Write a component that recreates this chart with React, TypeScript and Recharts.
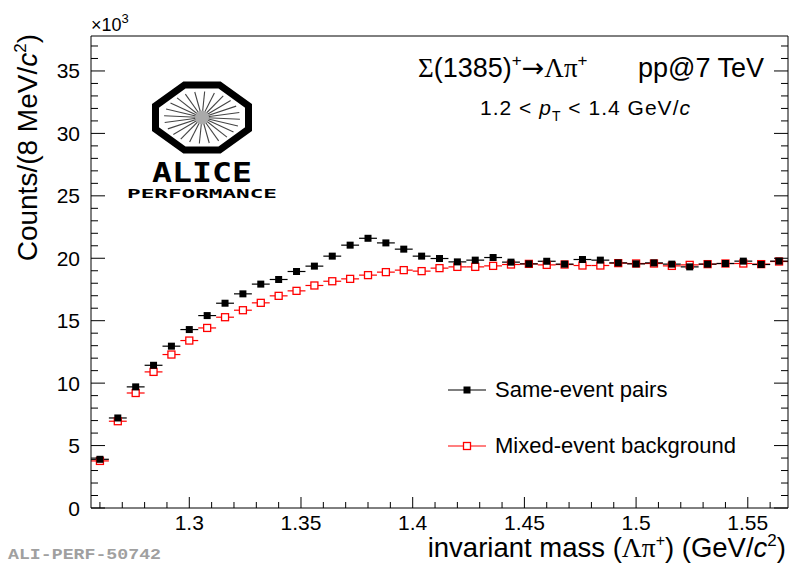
import { ScatterChart, Scatter, XAxis, YAxis, ErrorBar } from 'recharts';

// bin centres of the invariant mass histogram (GeV/c^2), 8 MeV bins
const mass = [
  1.26, 1.268, 1.276, 1.284, 1.292, 1.3, 1.308, 1.316, 1.324, 1.332,
  1.34, 1.348, 1.356, 1.364, 1.372, 1.38, 1.388, 1.396, 1.404, 1.412,
  1.42, 1.428, 1.436, 1.444, 1.452, 1.46, 1.468, 1.476, 1.484, 1.492,
  1.5, 1.508, 1.516, 1.524, 1.532, 1.54, 1.548, 1.556, 1.564,
];

// counts per bin
const sameEvent = [
  3900, 7210, 9700, 11430, 12960, 14290, 15410, 16400, 17150, 17930,
  18300, 18940, 19370, 20170, 21050, 21600, 21230, 20730, 20170, 19980,
  19710, 19850, 20060, 19690, 19550, 19760, 19530, 19900, 19850, 19630,
  19550, 19630, 19530, 19310, 19530, 19580, 19770, 19500, 19770,
];

const mixedEvent = [
  3770, 6950, 9210, 10900, 12290, 13410, 14420, 15280, 15840, 16430,
  16990, 17390, 17820, 18160, 18350, 18650, 18890, 19050, 18970, 19210,
  19310, 19310, 19390, 19500, 19550, 19470, 19500, 19420, 19420, 19610,
  19580, 19580, 19390, 19470, 19530, 19580, 19580, 19530, 19740,
];

const binHalfWidth = 0.004;

const xTicks = [
  1.26, 1.27, 1.28, 1.29, 1.3, 1.31, 1.32, 1.33, 1.34, 1.35, 1.36, 1.37,
  1.38, 1.39, 1.4, 1.41, 1.42, 1.43, 1.44, 1.45, 1.46, 1.47, 1.48, 1.49,
  1.5, 1.51, 1.52, 1.53, 1.54, 1.55, 1.56,
];

const yTicks = [
  0, 1000, 2000, 3000, 4000, 5000, 6000, 7000, 8000, 9000, 10000, 11000,
  12000, 13000, 14000, 15000, 16000, 17000, 18000, 19000, 20000, 21000,
  22000, 23000, 24000, 25000, 26000, 27000, 28000, 29000, 30000, 31000,
  32000, 33000, 34000, 35000, 36000, 37000,
];

const X_DOMAIN = [1.256, 1.568];
const Y_DOMAIN = [0, 37800];

const sameData = mass.map((m, i) => ({ m, v: sameEvent[i], ex: binHalfWidth }));
const mixedData = mass.map((m, i) => ({ m, v: mixedEvent[i], ex: binHalfWidth }));

const FONT = '"Liberation Sans", Arial, Helvetica, sans-serif';
const SERIF = '"Liberation Serif", "Times New Roman", serif';

const isMajorX = (v: number) => Math.round(v * 100) % 5 === 0;
const isMajorY = (v: number) => v % 5000 === 0;

const BottomTick = ({ x, y, payload }: any) => {
  const major = isMajorX(payload.value);
  return (
    <g>
      <line x1={x} x2={x} y1={y} y2={y - (major ? 11 : 6)} stroke="#000" />
      {major && (
        <text x={x} y={y + 22} textAnchor="middle" fontSize={21} fontFamily={FONT} fill="#000">
          {String(+payload.value.toFixed(2))}
        </text>
      )}
    </g>
  );
};

const TopTick = ({ x, y, payload }: any) => {
  const major = isMajorX(payload.value);
  return <line x1={x} x2={x} y1={y} y2={y + (major ? 11 : 6)} stroke="#000" />;
};

const LeftTick = ({ x, y, payload }: any) => {
  const major = isMajorY(payload.value);
  return (
    <g>
      <line x1={x} x2={x + (major ? 14 : 7)} y1={y} y2={y} stroke="#000" />
      {major && (
        <text x={x - 11} y={y + 7.5} textAnchor="end" fontSize={21} fontFamily={FONT} fill="#000">
          {payload.value / 1000}
        </text>
      )}
    </g>
  );
};

const RightTick = ({ x, y, payload }: any) => {
  const major = isMajorY(payload.value);
  return <line x1={x} x2={x - (major ? 14 : 7)} y1={y} y2={y} stroke="#000" />;
};

const FilledSquare = ({ cx, cy }: any) => (
  <rect x={cx - 3.5} y={cy - 3.5} width={7} height={7} fill="#000" />
);

const OpenSquare = ({ cx, cy }: any) => (
  <rect x={cx - 3.5} y={cy - 3.5} width={7} height={7} fill="#fff" stroke="#ff0000" strokeWidth={1.3} />
);

function AliceLogo() {
  const cx = 202;
  const cy = 117.5;
  const w = 100;
  const h = 72;
  const dx = w * 0.29;
  const dy = h * 0.29;
  const l = cx - w / 2 + 3.5, r = cx + w / 2 - 3.5, t = cy - h / 2 + 3.5, b = cy + h / 2 - 3.5;
  const pts = [
    [l + dx, t], [r - dx, t], [r, t + dy], [r, b - dy],
    [r - dx, b], [l + dx, b], [l, b - dy], [l, t + dy],
  ].map((p) => p.join(',')).join(' ');
  const spokes = Array.from({ length: 24 }, (_, i) => (i * Math.PI * 2) / 24 + 0.07);
  return (
    <g>
      {spokes.map((a, i) => (
        <line key={i} x1={cx} y1={cy} x2={cx + Math.cos(a) * 38} y2={cy + Math.sin(a) * 26}
          stroke="#444" strokeWidth={1.1} />
      ))}
      <circle cx={cx} cy={cy} r={7} fill="#aaa" />
      <polygon points={pts} fill="none" stroke="#000" strokeWidth={7} strokeLinejoin="miter" />
      <text x={152} y={182} fontSize={26} fontWeight="bold" fontFamily='"DejaVu Sans Mono", monospace'
        textLength={100} lengthAdjust="spacingAndGlyphs" fill="#000">ALICE</text>
      <text x={127} y={198} fontSize={13} fontWeight="bold" fontFamily='"DejaVu Sans Mono", monospace'
        textLength={150} lengthAdjust="spacingAndGlyphs" fill="#000">PERFORMANCE</text>
    </g>
  );
}

export default function App() {
  return (
    <div style={{ position: 'absolute', left: 0, top: 0, width: 791, height: 563, background: '#fff' }}>
      <ScatterChart width={791} height={563} margin={{ top: 0, right: 0, bottom: 0, left: 0 }}>
        <XAxis xAxisId="bottom" type="number" dataKey="m" domain={X_DOMAIN} ticks={xTicks}
          allowDataOverflow height={55} tickSize={0} tickMargin={0} tickLine={false}
          axisLine={{ stroke: '#000' }} tick={<BottomTick />} interval={0} />
        <XAxis xAxisId="top" orientation="top" type="number" domain={X_DOMAIN} ticks={xTicks}
          allowDataOverflow height={36} tickSize={0} tickMargin={0} tickLine={false}
          axisLine={{ stroke: '#000' }} tick={<TopTick />} interval={0} />
        <YAxis yAxisId="left" type="number" dataKey="v" domain={Y_DOMAIN} ticks={yTicks}
          allowDataOverflow width={91} tickSize={0} tickMargin={0} tickLine={false}
          axisLine={{ stroke: '#000' }} tick={<LeftTick />} interval={0} />
        <YAxis yAxisId="right" orientation="right" type="number" domain={Y_DOMAIN} ticks={yTicks}
          allowDataOverflow width={3} tickSize={0} tickMargin={0} tickLine={false}
          axisLine={{ stroke: '#000' }} tick={<RightTick />} interval={0} />
        <Scatter name="Mixed-event background" data={mixedData} xAxisId="bottom" yAxisId="left"
          shape={<OpenSquare />} isAnimationActive={false}>
          <ErrorBar dataKey="ex" direction="x" width={0} stroke="#ff0000" strokeWidth={1.2} />
        </Scatter>
        <Scatter name="Same-event pairs" data={sameData} xAxisId="bottom" yAxisId="left"
          shape={<FilledSquare />} isAnimationActive={false}>
          <ErrorBar dataKey="ex" direction="x" width={0} stroke="#000" strokeWidth={1.2} />
        </Scatter>
      </ScatterChart>

      <svg width={791} height={563} style={{ position: 'absolute', left: 0, top: 0, pointerEvents: 'none' }}>
        <AliceLogo />

        <text x={91} y={31} fontSize={18} fontFamily={FONT} fill="#000">
          ×10<tspan dy={-8} fontSize={13}>3</tspan>
        </text>

        <text x={418} y={77} fontSize={27} fontFamily={FONT} fill="#000">
          <tspan fontFamily={SERIF}>Σ</tspan>(1385)<tspan dy={-11} fontSize={17}>+</tspan>
          <tspan dy={11} fontFamily='"DejaVu Sans", sans-serif'>→</tspan>
          <tspan fontFamily={SERIF}>Λπ</tspan><tspan dy={-11} fontSize={17}>+</tspan>
        </text>
        <text x={638} y={77} fontSize={27} fontFamily={FONT} fill="#000">pp@7 TeV</text>

        <text x={480} y={115} fontSize={21} fontFamily={FONT} fill="#000" textLength={210} lengthAdjust="spacing">
          1.2 {'<'} <tspan fontStyle="italic">p</tspan><tspan dy={6} fontSize={14}>T</tspan><tspan dy={-6}> {'<'} 1.4 GeV/</tspan><tspan fontStyle="italic">c</tspan>
        </text>

        <line x1={448} x2={486} y1={390} y2={390} stroke="#000" strokeWidth={1.2} />
        <rect x={463.5} y={386.5} width={7} height={7} fill="#000" />
        <text x={495} y={397} fontSize={22} fontFamily={FONT} fill="#000">Same-event pairs</text>

        <line x1={448} x2={486} y1={446} y2={446} stroke="#ff0000" strokeWidth={1.2} />
        <rect x={463.5} y={442.5} width={7} height={7} fill="#fff" stroke="#ff0000" strokeWidth={1.3} />
        <text x={495} y={453} fontSize={22} fontFamily={FONT} fill="#000">Mixed-event background</text>

        <text x={786} y={557} textAnchor="end" fontSize={27.5} fontFamily={FONT} fill="#000">
          invariant mass (<tspan fontFamily={SERIF}>Λπ</tspan><tspan dy={-11} fontSize={16}>+</tspan>
          <tspan dy={11}>) (GeV/</tspan><tspan fontStyle="italic">c</tspan>
          <tspan dy={-11} fontSize={17}>2</tspan><tspan dy={11}>)</tspan>
        </text>

        <text transform="translate(37,34) rotate(-90)" textAnchor="end" fontSize={28} fontFamily={FONT} fill="#000">
          Counts/(8 MeV/<tspan fontStyle="italic">c</tspan><tspan dy={-11} fontSize={17}>2</tspan>
          <tspan dy={11}>)</tspan>
        </text>

        <text x={8} y={559} fontSize={15} fontWeight="bold" fontFamily='"Liberation Mono", "DejaVu Sans Mono", monospace'
          fill="#a0a0a0" textLength={153} lengthAdjust="spacingAndGlyphs">ALI-PERF-50742</text>
      </svg>
    </div>
  );
}
